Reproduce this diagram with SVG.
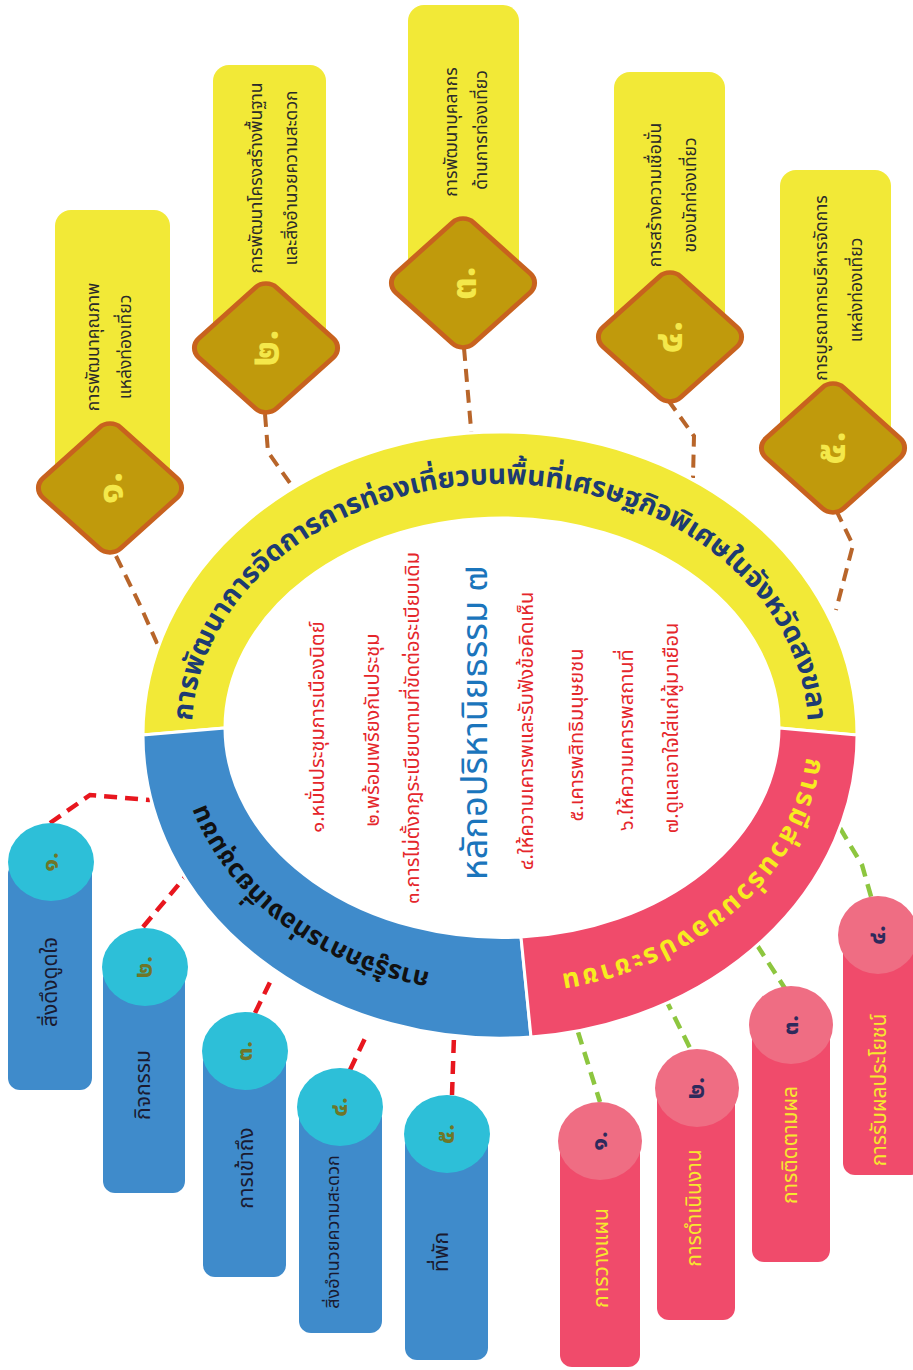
<svg xmlns="http://www.w3.org/2000/svg" width="913" height="1370" viewBox="0 0 913 1370">
<style>
text{font-family:"Noto Sans Thai","Noto Sans","DejaVu Sans",sans-serif}
.ybox{fill:#F2E937}
.dia{fill:#C09A0C;stroke:#C8621E;stroke-width:5}
.dnum{fill:#F4E84A;font-size:40px;font-weight:bold}
.btxt{fill:#2A2A2A;font-size:17.5px}
.bpill{fill:#3F8BCB}
.bcirc{fill:#2DBFD8}
.bnum{fill:#6F7628;font-size:24px;font-weight:bold}
.bptxt{fill:#1A1A30;font-size:21px}
.ppill{fill:#F04B6B}
.pcirc{fill:#EF6D83}
.pnum{fill:#2E2A5C;font-size:24px;font-weight:bold}
.pptxt{fill:#F7E82E;font-size:21px}
.red{fill:#E5262B;font-size:20px}
.c-brown{fill:none;stroke:#B8652A;stroke-width:4;stroke-dasharray:13 8}
.c-red{fill:none;stroke:#E8161E;stroke-width:4.5;stroke-dasharray:13 8}
.c-green{fill:none;stroke:#8DC63F;stroke-width:4.5;stroke-dasharray:13 8}
</style>
<defs>
<path id="pTop" d="M 192,731 A 308,247 0 0 1 808,731"/>
<path id="pBot" d="M 808,731 A 308,248 0 0 1 192,731"/>
</defs>
<rect width="913" height="1370" fill="#FFFFFF"/>

<g id="connectors">
<path class="c-brown" d="M116,556 L140,605 L160,650"/>
<path class="c-brown" d="M265,414 L268,452 L292,486"/>
<path class="c-brown" d="M464,348 L472,440"/>
<path class="c-brown" d="M668,400 L694,436 L693,478"/>
<path class="c-brown" d="M836,510 L853,545 L836,610"/>
<path class="c-red" d="M50,823 L90,795 L150,800"/>
<path class="c-red" d="M143,927 L185,877"/>
<path class="c-red" d="M255,1013 L273,976"/>
<path class="c-red" d="M350,1070 L368,1032"/>
<path class="c-red" d="M452,1095 L454,1036"/>
<path class="c-green" d="M578,1032 L600,1102"/>
<path class="c-green" d="M665,998 L692,1052"/>
<path class="c-green" d="M757,945 L786,990"/>
<path class="c-green" d="M840,828 L862,865 L872,900"/>
</g>

<g id="ring">
<path fill="#F2E937" stroke="#FFFFFF" stroke-width="3" d="M143,735 A357,303 0 0 1 857,735 L779,728 A277,210 0 0 0 225,728 Z"/>
<path fill="#3F8BCB" stroke="#FFFFFF" stroke-width="3" d="M143,735 A357,303 0 0 0 531,1037 L521,937 A277,210 0 0 1 225,728 Z"/>
<path fill="#F04B6B" stroke="#FFFFFF" stroke-width="3" d="M857,735 A357,303 0 0 1 531,1037 L521,937 A277,210 0 0 0 779,728 Z"/>
<text font-size="28" font-weight="bold" fill="#1D3B72"><textPath href="#pTop" startOffset="50%" text-anchor="middle">การพัฒนาการจัดการการท่องเที่ยวบนพื้นที่เศรษฐกิจพิเศษในจังหวัดสงขลา</textPath></text>
<text font-size="26" font-weight="bold" fill="#111111"><textPath href="#pBot" startOffset="74.8%" text-anchor="middle">การรู้จักการท่องเที่ยวชุมชน</textPath></text>
<text font-size="27" font-weight="bold" fill="#F7EC1F"><textPath href="#pBot" startOffset="23%" text-anchor="middle" textLength="350" lengthAdjust="spacing">การมีส่วนร่วมของประชาชน</textPath></text>
</g>

<g id="center-principles" text-anchor="middle" dominant-baseline="central">
<text class="red" transform="translate(318,727) rotate(-90)">๑.หมั่นประชุมการเนืองนิตย์</text>
<text class="red" transform="translate(373,730) rotate(-90)">๒.พร้อมเพรียงกันประชุม</text>
<text class="red" transform="translate(413,728) rotate(-90)">๓.การไม่ตั้งกฎระเบียบตามที่ขัดต่อระเบียบเดิม</text>
<text transform="translate(476,723) rotate(-90)" fill="#1B75BC" font-size="36">หลักอปริหานิยธรรม ๗</text>
<text class="red" transform="translate(527,731) rotate(-90)">๔.ให้ความเคารพและรับฟังข้อคิดเห็น</text>
<text class="red" transform="translate(577,735) rotate(-90)">๕.เคารพสิทธิมนุษยชน</text>
<text class="red" transform="translate(627,740) rotate(-90)">๖.ให้ความเคารพสถานที่</text>
<text class="red" transform="translate(672,728) rotate(-90)">๗.ดูแลเอาใจใส่แก่ผู้มาเยือน</text>
</g>

<g id="top1">
<rect class="ybox" x="55" y="210" width="115" height="290" rx="16"/>
<text class="btxt" text-anchor="middle" dominant-baseline="central" transform="translate(93,347) rotate(-90)">การพัฒนาคุณภาพ</text>
<text class="btxt" text-anchor="middle" dominant-baseline="central" transform="translate(125,347) rotate(-90)">แหล่งท่องเที่ยว</text>
<rect class="dia" x="-55" y="-55" width="110" height="110" rx="15" transform="translate(110,488) scale(1,0.9) rotate(45)"/>
<text class="dnum" text-anchor="middle" dominant-baseline="central" transform="translate(110,488) rotate(-90)">๑.</text>
</g>
<g id="top2">
<rect class="ybox" x="213" y="65" width="113" height="290" rx="16"/>
<text class="btxt" text-anchor="middle" dominant-baseline="central" transform="translate(256,178) rotate(-90)">การพัฒนาโครงสร้างพื้นฐาน</text>
<text class="btxt" text-anchor="middle" dominant-baseline="central" transform="translate(291,178) rotate(-90)">และสิ่งอำนวยความสะดวก</text>
<rect class="dia" x="-55" y="-55" width="110" height="110" rx="15" transform="translate(266,348) scale(1,0.9) rotate(45)"/>
<text class="dnum" text-anchor="middle" dominant-baseline="central" transform="translate(266,348) rotate(-90)">๒.</text>
</g>
<g id="top3">
<rect class="ybox" x="408" y="5" width="111" height="285" rx="16"/>
<text class="btxt" text-anchor="middle" dominant-baseline="central" transform="translate(451,132) rotate(-90)">การพัฒนาบุคลากร</text>
<text class="btxt" text-anchor="middle" dominant-baseline="central" transform="translate(481,130) rotate(-90)">ด้านการท่องเที่ยว</text>
<rect class="dia" x="-55" y="-55" width="110" height="110" rx="15" transform="translate(463,283) scale(1,0.9) rotate(45)"/>
<text class="dnum" text-anchor="middle" dominant-baseline="central" transform="translate(463,283) rotate(-90)">๓.</text>
</g>
<g id="top4">
<rect class="ybox" x="614" y="72" width="111" height="270" rx="16"/>
<text class="btxt" text-anchor="middle" dominant-baseline="central" transform="translate(655,195) rotate(-90)">การสร้างความเชื่อมั่น</text>
<text class="btxt" text-anchor="middle" dominant-baseline="central" transform="translate(690,195) rotate(-90)">ของนักท่องเที่ยว</text>
<rect class="dia" x="-55" y="-55" width="110" height="110" rx="15" transform="translate(670,337) scale(1,0.9) rotate(45)"/>
<text class="dnum" text-anchor="middle" dominant-baseline="central" transform="translate(670,337) rotate(-90)">๔.</text>
</g>
<g id="top5">
<rect class="ybox" x="780" y="170" width="111" height="280" rx="16"/>
<text class="btxt" text-anchor="middle" dominant-baseline="central" transform="translate(821,288) rotate(-90)">การบูรณาการบริหารจัดการ</text>
<text class="btxt" text-anchor="middle" dominant-baseline="central" transform="translate(856,290) rotate(-90)">แหล่งท่องเที่ยว</text>
<rect class="dia" x="-55" y="-55" width="110" height="110" rx="15" transform="translate(833,448) scale(1,0.9) rotate(45)"/>
<text class="dnum" text-anchor="middle" dominant-baseline="central" transform="translate(833,448) rotate(-90)">๕.</text>
</g>

<g id="blue1">
<rect class="bpill" x="8" y="862" width="84" height="228" rx="12"/>
<ellipse class="bcirc" cx="51" cy="862" rx="43" ry="39"/>
<text class="bnum" text-anchor="middle" dominant-baseline="central" transform="translate(51,862) rotate(-90)">๑.</text>
<text class="bptxt" text-anchor="middle" dominant-baseline="central" transform="translate(50,982) rotate(-90)">สิ่งดึงดูดใจ</text>
</g>
<g id="blue2">
<rect class="bpill" x="103" y="967" width="82" height="226" rx="12"/>
<ellipse class="bcirc" cx="145" cy="967" rx="43" ry="39"/>
<text class="bnum" text-anchor="middle" dominant-baseline="central" transform="translate(145,967) rotate(-90)">๒.</text>
<text class="bptxt" text-anchor="middle" dominant-baseline="central" transform="translate(143,1085) rotate(-90)">กิจกรรม</text>
</g>
<g id="blue3">
<rect class="bpill" x="203" y="1051" width="83" height="226" rx="12"/>
<ellipse class="bcirc" cx="245" cy="1051" rx="43" ry="39"/>
<text class="bnum" text-anchor="middle" dominant-baseline="central" transform="translate(245,1051) rotate(-90)">๓.</text>
<text class="bptxt" text-anchor="middle" dominant-baseline="central" transform="translate(246,1168) rotate(-90)">การเข้าถึง</text>
</g>
<g id="blue4">
<rect class="bpill" x="299" y="1107" width="83" height="226" rx="12"/>
<ellipse class="bcirc" cx="340" cy="1107" rx="43" ry="39"/>
<text class="bnum" text-anchor="middle" dominant-baseline="central" transform="translate(340,1107) rotate(-90)">๔.</text>
<text class="bptxt" style="font-size:18px" text-anchor="middle" dominant-baseline="central" transform="translate(333,1232) rotate(-90)">สิ่งอำนวยความสะดวก</text>
</g>
<g id="blue5">
<rect class="bpill" x="405" y="1134" width="83" height="226" rx="12"/>
<ellipse class="bcirc" cx="447" cy="1134" rx="43" ry="39"/>
<text class="bnum" text-anchor="middle" dominant-baseline="central" transform="translate(447,1134) rotate(-90)">๕.</text>
<text class="bptxt" text-anchor="middle" dominant-baseline="central" transform="translate(441,1252) rotate(-90)">ที่พัก</text>
</g>

<g id="pink1">
<rect class="ppill" x="560" y="1141" width="80" height="226" rx="12"/>
<ellipse class="pcirc" cx="600" cy="1141" rx="42" ry="39"/>
<text class="pnum" text-anchor="middle" dominant-baseline="central" transform="translate(600,1141) rotate(-90)">๑.</text>
<text class="pptxt" text-anchor="middle" dominant-baseline="central" transform="translate(601,1258) rotate(-90)">การวางแผน</text>
</g>
<g id="pink2">
<rect class="ppill" x="657" y="1088" width="78" height="232" rx="12"/>
<ellipse class="pcirc" cx="697" cy="1088" rx="42" ry="39"/>
<text class="pnum" text-anchor="middle" dominant-baseline="central" transform="translate(697,1088) rotate(-90)">๒.</text>
<text class="pptxt" text-anchor="middle" dominant-baseline="central" transform="translate(694,1208) rotate(-90)">การดำเนินงาน</text>
</g>
<g id="pink3">
<rect class="ppill" x="752" y="1025" width="78" height="237" rx="12"/>
<ellipse class="pcirc" cx="791" cy="1025" rx="42" ry="39"/>
<text class="pnum" text-anchor="middle" dominant-baseline="central" transform="translate(791,1025) rotate(-90)">๓.</text>
<text class="pptxt" text-anchor="middle" dominant-baseline="central" transform="translate(790,1145) rotate(-90)">การติดตามผล</text>
</g>
<g id="pink4">
<rect class="ppill" x="843" y="935" width="80" height="240" rx="12"/>
<ellipse class="pcirc" cx="878" cy="935" rx="40" ry="39"/>
<text class="pnum" text-anchor="middle" dominant-baseline="central" transform="translate(878,935) rotate(-90)">๔.</text>
<text class="pptxt" text-anchor="middle" dominant-baseline="central" transform="translate(879,1090) rotate(-90)">การรับผลประโยชน์</text>
</g>
</svg>
